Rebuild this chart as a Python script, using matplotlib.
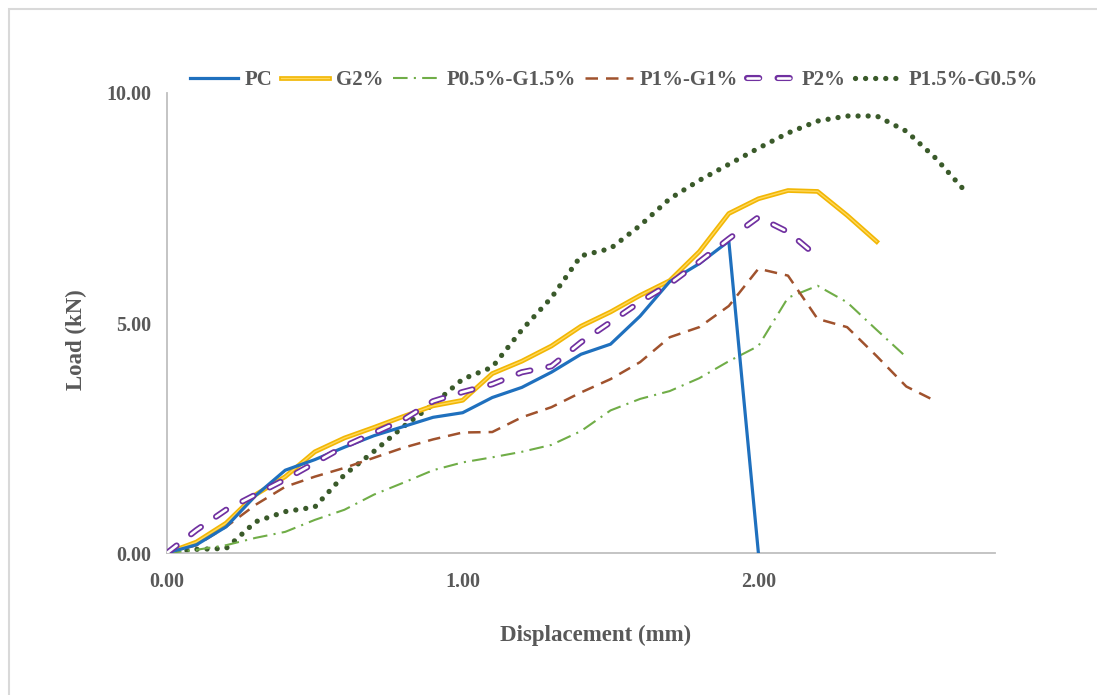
import matplotlib
matplotlib.use('Agg')
import matplotlib.pyplot as plt
import matplotlib.patheffects as pe
from matplotlib.patches import Rectangle

plt.rcParams['font.family'] = 'Liberation Serif'
plt.rcParams['font.weight'] = 'bold'
plt.rcParams['axes.labelweight'] = 'bold'

txt_col = '#595959'

# displacement (mm) / load (kN)
x_pc = [0.0, 0.1, 0.2, 0.3, 0.4, 0.5, 0.6, 0.7, 0.8, 0.9, 1.0, 1.1, 1.2, 1.3, 1.4,
        1.5, 1.6, 1.7, 1.8, 1.9, 2.0]
y_pc = [0, 0.18, 0.57, 1.25, 1.8, 2.03, 2.3, 2.55, 2.75, 2.95, 3.05, 3.38, 3.6, 3.93,
        4.32, 4.54, 5.15, 5.9, 6.29, 6.78, 0]

x_g2 = [0.0, 0.1, 0.2, 0.3, 0.4, 0.5, 0.6, 0.7, 0.8, 0.9, 1.0, 1.1, 1.2, 1.3, 1.4,
        1.5, 1.6, 1.7, 1.8, 1.9, 2.0, 2.1, 2.2, 2.3, 2.4]
y_g2 = [0, 0.24, 0.65, 1.27, 1.66, 2.2, 2.5, 2.73, 2.97, 3.2, 3.32, 3.9, 4.17, 4.5,
        4.93, 5.24, 5.6, 5.92, 6.55, 7.38, 7.7, 7.88, 7.86, 7.34, 6.77]

x_p05 = [0.0, 0.1, 0.2, 0.3, 0.4, 0.5, 0.6, 0.7, 0.8, 0.9, 1.0, 1.1, 1.2, 1.3, 1.4,
         1.5, 1.6, 1.7, 1.8, 1.9, 2.0, 2.1, 2.2, 2.3, 2.4, 2.5]
y_p05 = [0, 0.07, 0.17, 0.33, 0.46, 0.72, 0.94, 1.27, 1.53, 1.8, 1.97, 2.08, 2.2, 2.35,
         2.65, 3.1, 3.35, 3.52, 3.8, 4.17, 4.5, 5.55, 5.81, 5.45, 4.85, 4.26]

x_p1 = [0.0, 0.1, 0.2, 0.3, 0.4, 0.5, 0.6, 0.7, 0.8, 0.9, 1.0, 1.1, 1.2, 1.3, 1.4,
        1.5, 1.6, 1.7, 1.8, 1.9, 2.0, 2.1, 2.2, 2.3, 2.4, 2.5, 2.6]
y_p1 = [0, 0.17, 0.57, 1.05, 1.44, 1.66, 1.85, 2.07, 2.29, 2.47, 2.62, 2.63, 2.95, 3.17,
        3.49, 3.78, 4.15, 4.69, 4.91, 5.37, 6.18, 6.03, 5.09, 4.91, 4.28, 3.62, 3.3]

x_p2 = [0.0, 0.1, 0.2, 0.3, 0.4, 0.5, 0.6, 0.7, 0.8, 0.9, 1.0, 1.1, 1.2, 1.3, 1.4,
        1.5, 1.6, 1.7, 1.8, 1.9, 2.0, 2.1, 2.2]
y_p2 = [0, 0.5, 0.94, 1.27, 1.6, 1.96, 2.32, 2.61, 2.9, 3.3, 3.5, 3.67, 3.93, 4.06,
        4.58, 5.02, 5.46, 5.85, 6.33, 6.83, 7.3, 6.98, 6.44]

x_p15 = [0.0, 0.1, 0.2, 0.3, 0.4, 0.5, 0.6, 0.7, 0.8, 0.9, 1.0, 1.1, 1.2, 1.3, 1.4,
         1.5, 1.6, 1.7, 1.8, 1.9, 2.0, 2.1, 2.2, 2.3, 2.4, 2.5, 2.6, 2.7]
y_p15 = [0, 0.08, 0.1, 0.68, 0.9, 1.0, 1.7, 2.21, 2.75, 3.23, 3.78, 4.04, 4.85, 5.55,
         6.46, 6.62, 7.12, 7.7, 8.1, 8.45, 8.8, 9.13, 9.39, 9.5, 9.5, 9.17, 8.58, 7.86]

x_ticks = [0, 1, 2]
y_ticks = [0, 5, 10]

fig = plt.figure(figsize=(10.97, 6.95), dpi=100)
fig.set_facecolor('w')
ax = fig.add_axes([0.1522, 0.2043, 0.7548, 0.6619])

# light frame round the picture
fig.patches.append(Rectangle((8.5 / 1097, -0.05), 1.2, 1 - 9.5 / 695 + 0.05,
                             transform=fig.transFigure, fill=False,
                             edgecolor='#D9D9D9', linewidth=1.5, zorder=0))

ax.plot(x_pc, y_pc, '-', color='#1F70BE', linewidth=2.3, label='PC', zorder=5)
ax.plot(x_g2, y_g2, '-', color='#FFC000', linewidth=3.2, label='G2%',
        path_effects=[pe.Stroke(linewidth=3.4, foreground='#F2B705'),
                      pe.Stroke(linewidth=1.0, foreground='#FFD85C')], zorder=4)
ax.plot(x_p05, y_p05, color='#70AD47', linewidth=1.5, dashes=(7, 3, 1, 3),
        label='P0.5%-G1.5%', zorder=3)
ax.plot(x_p1, y_p1, color='#A0522D', linewidth=1.8, dashes=(5, 3.2),
        label='P1%-G1%', zorder=3)
ax.plot(x_p2, y_p2, color='#7030A0', linewidth=4.4, dashes=(2.0, 3.0),
        dash_capstyle='round', label='P2%',
        path_effects=[pe.Stroke(linewidth=4.4, foreground='#7030A0'),
                      pe.Stroke(linewidth=1.9, foreground='white')], zorder=6)
ax.plot(x_p15, y_p15, color='#3A5A2A', linewidth=3.8, dashes=(0.01, 1.9),
        dash_capstyle='round', label='P1.5%-G0.5%', zorder=2)

ax.set_xlim(0, 2.8)
ax.set_ylim(0, 10)
ax.set_xticks(x_ticks)
ax.set_xticklabels(['%.2f' % v for v in x_ticks])
ax.set_yticks(y_ticks)
ax.set_yticklabels(['%.2f' % v for v in y_ticks])
ax.tick_params(axis='both', length=0, labelsize=14.5, labelcolor=txt_col)
ax.tick_params(axis='x', pad=14)
ax.tick_params(axis='y', pad=11)

for side in ['top', 'right']:
    ax.spines[side].set_visible(False)
for side in ['left', 'bottom']:
    ax.spines[side].set_color('#BFBFBF')
    ax.spines[side].set_linewidth(1.3)

ax.set_xlabel('Displacement (mm)', fontsize=16.5, color=txt_col)
ax.xaxis.label.set_va('center')
ax.xaxis.set_label_coords(0.518, -0.18)
ax.set_ylabel('Load (kN)', fontsize=16.5, color=txt_col)
ax.yaxis.label.set_va('center')
ax.yaxis.set_label_coords(-0.109, 0.463)

leg = fig.legend(loc='center', bbox_to_anchor=(0.56, 0.885), ncol=6, frameon=False,
                 fontsize=15, handlelength=2.3, handletextpad=0.3, columnspacing=0.45)
for t in leg.get_texts():
    t.set_color(txt_col)

fig.savefig('out.png', dpi=100, facecolor='w')
